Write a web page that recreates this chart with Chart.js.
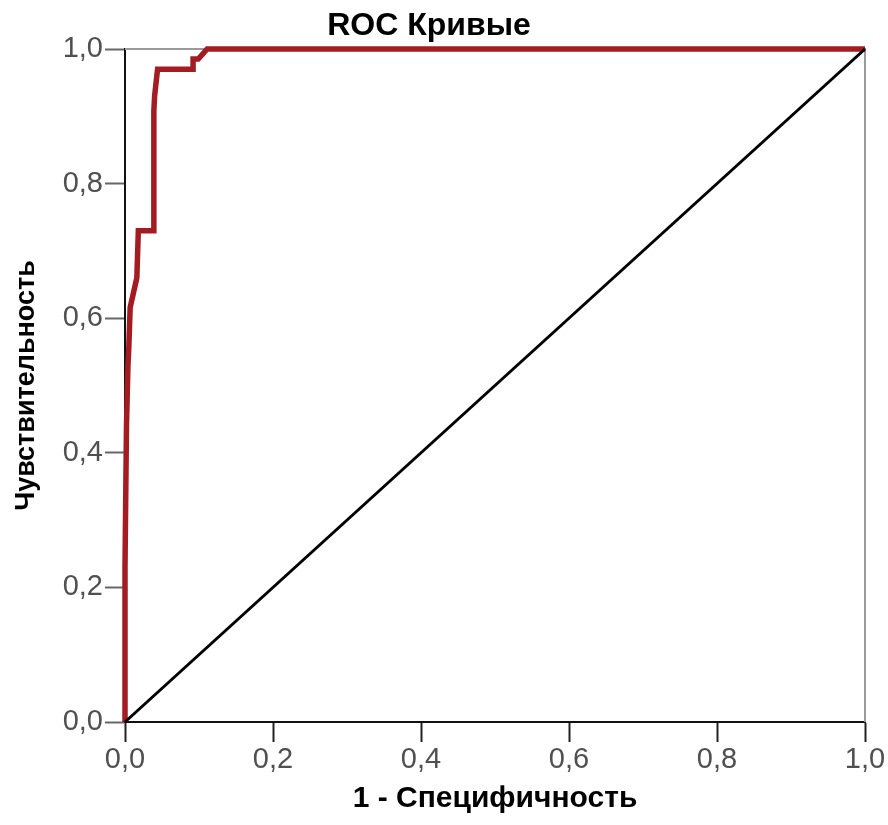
<!DOCTYPE html>
<html>
<head>
<meta charset="utf-8">
<script src="https://cdn.jsdelivr.net/npm/chart.js@4.4.1/dist/chart.umd.min.js"></script>
<style>
	html, body { margin: 0; padding: 0; background: #fff; }
	#wrap { width: 888px; height: 825px; position: relative; }
</style>
</head>
<body>
<div id="wrap"><canvas id="roc-chart"></canvas></div>
<script>
// значения
const chartTitle = 'ROC Кривые';
const xTitle = '1 - Специфичность';
const yTitle = 'Чувствительность';
const tickValues = [0, 0.2, 0.4, 0.6, 0.8, 1.0];

// ROC кривая (1 - специфичность, чувствительность)
const fpr = [0, 0, 0.002, 0.004, 0.005, 0.007, 0.016, 0.018, 0.039, 0.039, 0.040, 0.044, 0.092, 0.092, 0.099, 0.111, 1.0];
const tpr = [0, 0.23, 0.44, 0.53, 0.552, 0.616, 0.66, 0.73, 0.73, 0.908, 0.93, 0.97, 0.97, 0.985, 0.985, 1.0, 1.0];

// опорная линия
const refX = [0, 1];
const refY = [0, 1];

const rocPoints = fpr.map((x, i) => ({ x: x, y: tpr[i] }));
const refPoints = refX.map((x, i) => ({ x: x, y: refY[i] }));

const fmt = v => v.toFixed(1).replace('.', ',');
const fontFamily = '"Liberation Sans", Arial, sans-serif';

// заголовок и серая рамка сверху/справа
const framePlugin = {
	id: 'frame',
	beforeDatasetsDraw(chart) {
		const { ctx, chartArea: a } = chart;
		ctx.save();
		ctx.strokeStyle = '#9a9a9a';
		ctx.lineWidth = 2;
		ctx.beginPath();
		ctx.moveTo(a.left, a.top);
		ctx.lineTo(a.right, a.top);
		ctx.lineTo(a.right, a.bottom);
		ctx.stroke();
		ctx.restore();
	},
	afterDraw(chart) {
		const { ctx } = chart;
		ctx.save();
		ctx.font = 'bold 32px ' + fontFamily;
		ctx.fillStyle = '#000';
		ctx.textAlign = 'center';
		ctx.textBaseline = 'middle';
		ctx.fillText(chartTitle, 429, 26);
		ctx.restore();
	}
};

document.addEventListener('DOMContentLoaded', function() {
	const ctx = document.getElementById('roc-chart').getContext('2d');
	new Chart(ctx, {
		type: 'scatter',
		data: {
			datasets: [
				{
					label: 'ref',
					data: refPoints,
					showLine: true,
					borderColor: '#000',
					borderWidth: 3,
					pointRadius: 0,
					clip: 4
				},
				{
					label: 'roc',
					data: rocPoints,
					showLine: true,
					borderColor: '#a31c22',
					borderWidth: 5.5,
					pointRadius: 0,
					borderJoinStyle: 'miter',
					clip: 6
				}
			]
		},
		options: {
			responsive: true,
			maintainAspectRatio: false,
			animation: false,
			layout: { padding: { top: 49, right: 23, bottom: 0, left: 0 } },
			plugins: {
				legend: { display: false },
				tooltip: { enabled: false }
			},
			scales: {
				x: {
					type: 'linear',
					min: 0,
					max: 1,
					afterBuildTicks: s => { s.ticks = tickValues.map(v => ({ value: v })); },
					afterFit: s => { s.height = 103; },
					ticks: {
						callback: v => fmt(v),
						font: { family: fontFamily, size: 29 },
						color: '#505050',
						padding: 1,
						maxRotation: 0
					},
					grid: { drawOnChartArea: false, drawTicks: true, tickLength: 20, tickColor: '#222', tickWidth: 2 },
					border: { color: '#111', width: 2 },
					title: {
						display: true,
						text: xTitle,
						color: '#000',
						font: { family: fontFamily, size: 30, weight: 'bold' },
						padding: { top: 8, bottom: 8 }
					}
				},
				y: {
					type: 'linear',
					min: 0,
					max: 1,
					afterBuildTicks: s => { s.ticks = tickValues.map(v => ({ value: v })); },
					afterFit: s => { s.width = 125; },
					ticks: {
						callback: v => fmt(v),
						font: { family: fontFamily, size: 29 },
						color: '#505050',
						padding: 2
					},
					grid: { drawOnChartArea: false, drawTicks: true, tickLength: 20, tickColor: '#666', tickWidth: 2 },
					border: { color: '#111', width: 2 },
					title: {
						display: true,
						text: yTitle,
						color: '#000',
						font: { family: fontFamily, size: 27, weight: 'bold' },
						padding: { top: 10, bottom: 0 }
					}
				}
			}
		},
		plugins: [framePlugin]
	});
});
</script>
</body>
</html>
